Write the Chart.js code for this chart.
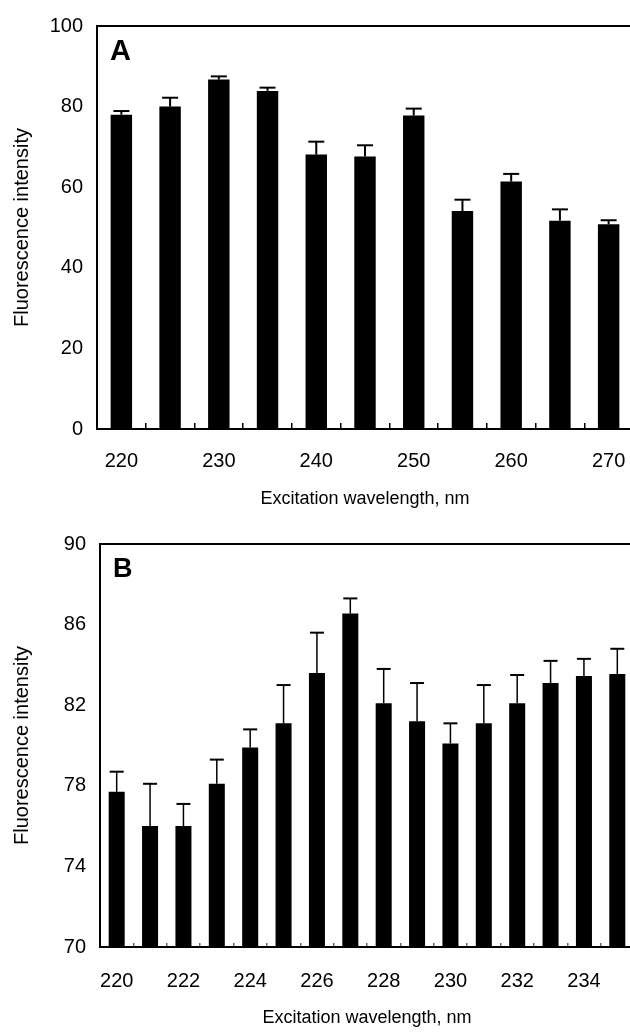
<!DOCTYPE html>
<html lang="en">
<head>
<meta charset="UTF-8">
<title>Fluorescence intensity vs excitation wavelength</title>
<script src="https://cdn.jsdelivr.net/npm/chart.js"></script>
<style>
    html, body { margin: 0; padding: 0; background: #fff; overflow: hidden; }
    body { width: 630px; height: 1032px; position: relative; }
    canvas { position: absolute; left: 0; }
    #chartA { top: 0; }
    #chartB { top: 515px; }
</style>
</head>
<body>
<canvas id="chartA" width="640" height="515"></canvas>
<canvas id="chartB" width="640" height="517"></canvas>

<script>
// Panel A: 220-270 nm, 5 nm steps
const wavelengthsA = ['220', '225', '230', '235', '240', '245', '250', '255', '260', '265', '270'];
const intensityA = [78.0, 80.0, 86.7, 83.9, 68.1, 67.6, 77.8, 54.1, 61.4, 51.7, 50.8];
const errorA = [0.9, 2.2, 0.8, 0.8, 3.2, 2.8, 1.7, 2.8, 1.9, 2.8, 1.0];
const tickLabelsA = ['220', '230', '240', '250', '260', '270'];

// Panel B: 220-235 nm, 1 nm steps
const wavelengthsB = ['220', '221', '222', '223', '224', '225', '226', '227', '228', '229', '230', '231', '232', '233', '234', '235'];
const intensityB = [77.7, 76.0, 76.0, 78.1, 79.9, 81.1, 83.6, 86.55, 82.1, 81.2, 80.1, 81.1, 82.1, 83.1, 83.45, 83.55];
const errorB = [1.0, 2.1, 1.1, 1.2, 0.9, 1.9, 2.0, 0.75, 1.7, 1.9, 1.0, 1.9, 1.4, 1.1, 0.85, 1.25];
const tickLabelsB = ['220', '222', '224', '226', '228', '230', '232', '234'];

Chart.defaults.font.family = '"Liberation Sans", Arial, Helvetica, sans-serif';
Chart.defaults.color = '#000';

// upper error bars, drawn from the bar top through the y scale
const errorBars = {
    id: 'errorBars',
    afterDatasetsDraw(chart, args, opts) {
        const ctx = chart.ctx;
        const y = chart.scales.y;
        const values = chart.data.datasets[0].data;
        ctx.save();
        ctx.strokeStyle = '#000';
        chart.getDatasetMeta(0).data.forEach((bar, i) => {
            const top = y.getPixelForValue(values[i] + opts.errors[i]);
            ctx.lineWidth = opts.stemWidth;
            ctx.beginPath();
            ctx.moveTo(bar.x, bar.y);
            ctx.lineTo(bar.x, top);
            ctx.stroke();
            ctx.lineWidth = opts.capThickness;
            ctx.beginPath();
            ctx.moveTo(bar.x - opts.capWidth / 2, top);
            ctx.lineTo(bar.x + opts.capWidth / 2, top);
            ctx.stroke();
        });
        ctx.restore();
    }
};

// the bold panel letter in the top left corner of the plot
const panelLetter = {
    id: 'panelLetter',
    afterDraw(chart, args, opts) {
        const { ctx, chartArea } = chart;
        ctx.save();
        ctx.font = 'bold ' + opts.size + 'px "Liberation Sans", Arial, sans-serif';
        ctx.fillStyle = '#000';
        ctx.textBaseline = 'alphabetic';
        ctx.fillText(opts.text, chartArea.left + opts.dx, chartArea.top + opts.dy);
        ctx.restore();
    }
};

function makePanel(id, p) {
    new Chart(document.getElementById(id), {
        type: 'bar',
        data: {
            labels: p.labels,
            datasets: [{
                data: p.values,
                backgroundColor: '#000',
                borderWidth: 0,
                categoryPercentage: 1,
                barPercentage: p.barPct
            }]
        },
        options: {
            responsive: false,
            animation: false,
            layout: { padding: { top: p.padTop, right: p.padRight, bottom: 0, left: 0 } },
            plugins: {
                legend: { display: false },
                tooltip: { enabled: false },
                errorBars: { errors: p.errors, stemWidth: p.stemWidth, capThickness: 2, capWidth: p.capWidth },
                panelLetter: { text: p.letter, size: p.letterSize, dx: 13, dy: p.letterDy }
            },
            scales: {
                x: {
                    // fixed height, and no extra side padding for the end labels
                    afterFit: s => { s.height = p.xHeight; s.paddingLeft = 0; s.paddingRight = 0; },
                    grid: {
                        display: true,
                        offset: true,
                        drawOnChartArea: false,
                        drawTicks: true,
                        tickLength: p.tickLen,
                        tickColor: p.tickColor,
                        lineWidth: 1.5
                    },
                    border: { display: true, color: '#000', width: 2 },
                    ticks: {
                        autoSkip: false,
                        maxRotation: 0,
                        padding: p.tickPad,
                        font: { size: 20 },
                        callback: function (value, index) {
                            const lab = this.getLabelForValue(value);
                            return p.tickLabels.includes(lab) ? lab : '';
                        }
                    },
                    title: {
                        display: true,
                        text: 'Excitation wavelength, nm',
                        font: { size: 18 },
                        padding: { top: 0, bottom: p.titlePad }
                    }
                },
                xTop: {
                    type: 'category',
                    position: 'top',
                    afterFit: s => { s.height = 0; s.paddingLeft = 0; s.paddingRight = 0; },
                    grid: { display: false, drawTicks: false },
                    ticks: { display: false },
                    border: { display: true, color: '#000', width: 2 }
                },
                y: {
                    min: p.yMin,
                    max: p.yMax,
                    afterFit: s => { s.width = p.yWidth; },
                    grid: { display: false, drawTicks: false },
                    border: { display: true, color: '#000', width: 2 },
                    ticks: { stepSize: p.yStep, padding: 14, font: { size: 20 } },
                    title: {
                        display: true,
                        text: 'Fluorescence intensity',
                        font: { size: 20 },
                        padding: { top: 10, bottom: 0 }
                    }
                }
            }
        },
        plugins: [errorBars, panelLetter]
    });
}

makePanel('chartA', {
    labels: wavelengthsA, values: intensityA, errors: errorA, tickLabels: tickLabelsA,
    letter: 'A', letterSize: 29, letterDy: 34,
    yMin: 0, yMax: 100, yStep: 20,
    barPct: 0.44, capWidth: 16, stemWidth: 2,
    padTop: 26, padRight: 7, yWidth: 97, xHeight: 86,
    tickLen: -6, tickColor: '#000', tickPad: 26, titlePad: 5
});

makePanel('chartB', {
    labels: wavelengthsB, values: intensityB, errors: errorB, tickLabels: tickLabelsB,
    letter: 'B', letterSize: 27, letterDy: 33,
    yMin: 70, yMax: 90, yStep: 4,
    barPct: 0.48, capWidth: 14, stemWidth: 1.5,
    padTop: 29, padRight: 6, yWidth: 100, xHeight: 85,
    tickLen: -4, tickColor: '#666', tickPad: 26, titlePad: 3
});
</script>
</body>
</html>
